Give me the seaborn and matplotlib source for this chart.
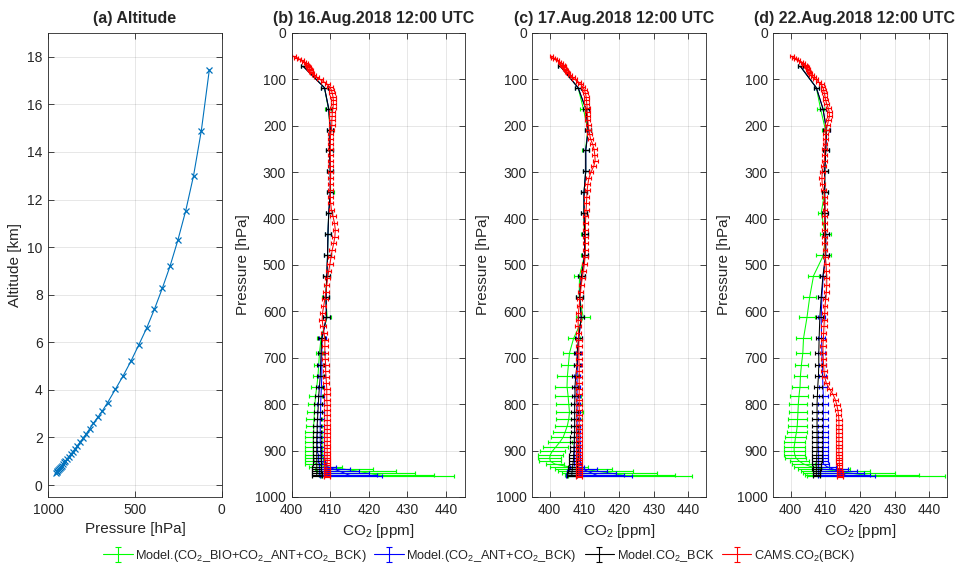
import numpy as np
import matplotlib
matplotlib.use("Agg")
import matplotlib.pyplot as plt
import seaborn as sns
from matplotlib.container import ErrorbarContainer
from matplotlib.legend_handler import HandlerErrorbar

# model levels (pressure [hPa]) and their altitude [km]
model_p = [72, 118, 163, 208, 253, 298, 343, 388, 433, 478, 523, 568, 613, 658, 690, 715, 740,
           762, 782, 800, 817, 832, 846, 859, 871, 882, 892, 901, 909, 916, 923, 929, 935, 940, 944, 948, 952, 955]
model_alt = [17.45, 14.9, 13.0, 11.53, 10.3, 9.21, 8.27, 7.4, 6.6, 5.9, 5.22, 4.6, 4.03, 3.47, 3.1, 2.85, 2.6,
             2.36, 2.15, 1.96, 1.8, 1.65, 1.52, 1.4, 1.29, 1.19, 1.1, 1.02, 0.95, 0.88, 0.82, 0.76, 0.71, 0.66, 0.62, 0.58, 0.55, 0.52]

# CAMS levels
cams_p = [50, 53, 56, 59, 62, 65, 68, 71, 74, 77, 80, 83,
          87, 91, 95, 100, 105, 111, 117, 123, 130, 137, 145, 153,
          161, 170, 179, 188, 198, 208, 218, 229, 240, 251, 263, 275,
          287, 300, 313, 326, 339, 353, 367, 381, 395, 410, 424, 439,
          453, 468, 483, 498, 513, 528, 543, 558, 573, 588, 603, 618,
          632, 647, 661, 675, 689, 703, 716, 729, 742, 755, 767, 779,
          791, 802, 813, 824, 834, 844, 853, 862, 871, 879, 887, 895,
          902, 909, 915, 921, 927, 932, 937, 942, 946, 950, 954, 957]
cams_err = [0.5, 0.5, 0.5, 0.5, 0.5, 0.5, 0.6, 0.6, 0.6, 0.6, 0.6, 0.6,
            0.6, 0.6, 0.7, 0.7, 0.7, 0.7, 0.7, 0.7, 0.7, 0.7, 0.7, 0.7,
            0.7, 0.7, 0.7, 0.7, 0.7, 0.7, 0.7, 0.7, 0.7, 0.7, 0.7, 0.7,
            0.7, 0.7, 0.7, 0.7, 0.7, 0.7, 0.7, 0.7, 0.7, 0.7, 0.7, 0.7,
            0.7, 0.7, 0.7, 0.7, 0.7, 0.7, 0.7, 0.7, 0.7, 0.7, 0.7, 0.7,
            0.8, 0.8, 0.8, 0.8, 0.8, 0.8, 0.8, 0.8, 0.8, 0.8, 0.8, 0.8,
            0.8, 0.8, 0.8, 0.8, 0.8, 0.8, 0.8, 0.8, 0.8, 0.8, 0.8, 0.8,
            0.8, 0.8, 0.8, 0.8, 0.8, 0.8, 0.8, 0.8, 0.8, 0.8, 0.8, 0.8]

# (b) 16 Aug
cams_b = [400.5, 401.2, 401.9, 402.6, 403.2, 403.7, 404.0, 404.2, 404.4, 404.6, 404.8, 405.0,
          405.3, 405.8, 406.5, 407.3, 408.3, 409.3, 409.9, 410.3, 410.5, 410.7, 410.8, 410.8,
          410.7, 410.5, 410.5, 410.4, 410.4, 410.3, 410.1, 410.0, 410.0, 410.0, 410.0, 410.0,
          410.0, 410.1, 410.1, 410.0, 410.0, 410.0, 410.1, 410.3, 410.7, 411.1, 411.3, 411.2,
          410.9, 410.5, 410.2, 409.9, 409.6, 409.3, 409.1, 408.9, 408.6, 408.3, 408.0, 407.9,
          408.1, 408.4, 408.6, 408.6, 408.6, 408.7, 408.8, 408.8, 408.9, 409.0, 409.1, 409.1,
          409.1, 409.2, 409.2, 409.2, 409.2, 409.2, 409.2, 409.2, 409.2, 409.2, 409.2, 409.2,
          409.2, 409.2, 409.2, 409.2, 409.2, 409.1, 409.1, 409.1, 409.1, 409.1, 409.1, 409.1]
b_bck = [403.0, 408.5, 409.6, 410.0, 409.8, 410.0, 410.0, 409.6, 409.4, 409.3, 409.1, 408.9, 409.0, 407.8, 407.6, 407.5, 407.4,
         407.2, 407.0, 406.9, 406.8, 406.7, 406.6, 406.6, 406.5, 406.5, 406.5, 406.5, 406.5, 406.5, 406.5, 406.5, 406.5, 406.5, 406.5, 406.5, 406.5, 406.5]
b_bck_err = [0.7, 0.8, 0.8, 0.8, 0.8, 0.8, 0.8, 0.8, 0.8, 0.8, 0.9, 0.9, 0.9, 0.9, 0.9, 0.9, 0.9,
             0.9, 1.0, 1.0, 1.0, 1.0, 1.0, 1.0, 1.0, 1.0, 1.0, 1.0, 1.1, 1.1, 1.1, 1.1, 1.2, 1.2, 1.2, 1.3, 1.3, 1.3]
b_ant = [403.0, 408.5, 409.6, 410.0, 409.8, 410.0, 410.0, 409.6, 409.4, 409.3, 409.1, 408.9, 409.0, 407.9, 407.8, 407.8, 407.8,
         407.7, 407.6, 407.5, 407.5, 407.4, 407.4, 407.4, 407.4, 407.4, 407.5, 407.5, 407.6, 407.6, 407.7, 408.0, 409.25, 411.0, 412.25, 413.5, 414.6, 415.45]
b_ant_err = [0.7, 0.8, 0.8, 0.8, 0.8, 0.8, 0.8, 0.8, 0.8, 0.8, 0.9, 0.9, 0.9, 0.9, 0.9, 0.9, 0.9,
             0.8, 0.9, 0.9, 0.9, 0.9, 0.9, 0.9, 0.9, 0.9, 0.9, 0.9, 0.9, 0.9, 0.9, 1.0, 2.25, 4.0, 5.25, 6.5, 7.4, 8.05]
b_bio = [403.0, 408.5, 409.5, 410.0, 409.8, 410.0, 410.1, 409.6, 409.4, 409.3, 409.1, 408.8, 409.2, 407.6, 407.2, 407.0, 406.8,
         406.5, 406.2, 406.0, 405.9, 405.8, 405.7, 405.7, 405.6, 405.6, 405.6, 405.6, 405.6, 405.7, 405.8, 406.25, 408.75, 413.5, 416.75, 419.5, 422.0, 424.75]
b_bio_err = [0.7, 0.8, 0.8, 0.8, 0.8, 0.8, 0.9, 0.8, 0.8, 0.8, 0.9, 0.9, 1.0, 1.0, 1.0, 1.1, 1.2,
             1.4, 1.7, 1.9, 2.0, 2.1, 2.1, 2.2, 2.2, 2.2, 2.2, 2.2, 2.2, 2.3, 2.4, 2.75, 4.25, 7.5, 10.25, 12.5, 15.0, 17.25]

# (c) 17 Aug
cams_c = [400.5, 401.0, 401.6, 402.2, 402.8, 403.3, 403.7, 404.0, 404.2, 404.4, 404.6, 404.9,
          405.3, 405.8, 406.5, 407.2, 408.2, 409.0, 409.6, 410.0, 410.3, 410.5, 410.6, 410.7,
          410.8, 410.8, 410.9, 411.0, 411.1, 411.3, 411.5, 411.8, 412.4, 412.8, 413.0, 413.1,
          412.7, 411.9, 411.3, 411.0, 410.8, 410.7, 410.6, 410.5, 410.4, 410.3, 410.3, 410.3,
          410.3, 410.3, 410.2, 410.0, 409.7, 409.4, 409.1, 408.9, 408.7, 408.5, 408.3, 408.2,
          408.2, 408.3, 408.4, 408.4, 408.4, 408.4, 408.5, 408.5, 408.5, 408.5, 408.5, 408.5,
          408.5, 408.5, 408.5, 408.5, 408.5, 408.5, 408.5, 408.5, 408.5, 408.5, 408.5, 408.5,
          408.5, 408.5, 408.5, 408.4, 408.4, 408.4, 408.4, 408.4, 408.4, 408.4, 408.4, 408.4]
c_bck = [403.1, 408.2, 410.4, 411.1, 410.4, 410.4, 409.9, 409.9, 410.1, 410.1, 409.2, 408.6, 409.1, 408.3, 407.9, 407.9, 407.5,
         407.3, 407.3, 407.2, 407.2, 407.2, 407.2, 407.2, 407.1, 407.1, 407.0, 407.0, 406.9, 406.9, 406.8, 406.7, 406.6, 406.5, 406.5, 406.4, 406.4, 406.4]
c_bck_err = [0.8, 0.8, 0.8, 0.9, 0.9, 0.9, 0.9, 0.9, 0.9, 0.9, 0.9, 0.9, 0.9, 0.9, 0.9, 0.9, 1.0,
             1.0, 1.0, 1.0, 1.0, 1.0, 1.0, 1.1, 1.1, 1.1, 1.1, 1.1, 1.2, 1.2, 1.2, 1.2, 1.3, 1.3, 1.3, 1.35, 1.35, 1.35]
c_ant = [403.1, 408.2, 410.4, 411.1, 410.4, 410.4, 409.9, 409.9, 410.1, 410.1, 409.2, 408.6, 409.1, 408.4, 408.1, 408.0, 407.9,
         407.9, 407.9, 407.9, 407.9, 407.9, 407.9, 407.9, 407.9, 407.9, 407.9, 407.9, 407.9, 407.9, 407.9, 408.0, 408.0, 409.5, 410.75, 412.0, 413.15, 414.1]
c_ant_err = [0.8, 0.8, 0.8, 0.9, 0.9, 0.9, 0.9, 0.9, 0.9, 0.9, 0.9, 0.9, 0.9, 0.9, 0.9, 0.9, 0.9,
             0.9, 0.9, 0.9, 0.9, 0.9, 0.9, 0.9, 0.9, 0.9, 0.9, 0.9, 0.9, 0.9, 0.9, 1.0, 2.0, 4.0, 5.75, 7.0, 8.35, 9.5]
c_bio = [403.1, 408.2, 409.7, 411.0, 410.3, 410.4, 409.9, 409.8, 410.0, 410.1, 408.6, 408.5, 409.7, 406.9, 405.7, 405.4, 405.1,
         405.0, 405.3, 405.5, 405.7, 405.5, 405.1, 404.5, 403.9, 402.9, 401.8, 400.8, 400.2, 400.0, 400.2, 401.5, 405.5, 409.75, 413.25, 417.25, 420.25, 423.15]
c_bio_err = [0.8, 0.8, 0.9, 0.9, 0.9, 0.9, 0.9, 0.9, 0.9, 1.0, 1.7, 1.0, 2.0, 1.7, 1.9, 2.2, 3.0,
             3.5, 3.7, 3.8, 3.8, 3.8, 3.7, 3.6, 3.6, 3.5, 3.6, 3.7, 3.6, 3.3, 3.2, 2.5, 5.5, 8.25, 10.75, 13.75, 15.75, 17.85]

# (d) 22 Aug
cams_d = [400.4, 401.0, 401.6, 402.3, 403.0, 403.6, 404.0, 404.3, 404.6, 404.9, 405.1, 405.3,
          405.6, 406.0, 406.5, 407.2, 408.0, 408.8, 409.3, 409.5, 409.7, 409.9, 410.1, 410.4,
          410.8, 411.1, 411.2, 410.9, 410.6, 410.3, 410.1, 410.0, 409.9, 409.8, 409.8, 409.7,
          409.4, 409.1, 409.0, 409.1, 409.5, 409.8, 409.9, 409.9, 409.8, 409.8, 409.8, 409.8,
          409.8, 409.9, 410.0, 410.2, 410.3, 410.4, 410.4, 410.3, 410.1, 409.9, 409.8, 409.7,
          409.6, 409.5, 409.4, 409.3, 409.3, 409.4, 409.5, 409.6, 409.8, 410.3, 411.2, 412.2,
          412.9, 413.3, 413.6, 413.8, 413.9, 413.9, 413.9, 413.9, 413.9, 413.9, 413.9, 413.9,
          413.9, 413.9, 414.0, 414.0, 414.0, 414.1, 414.1, 414.1, 414.2, 414.2, 414.2, 414.2]
d_bck = [402.8, 407.4, 409.3, 410.3, 410.1, 409.8, 409.8, 409.8, 410.1, 410.1, 409.3, 408.8, 408.4, 408.2, 408.1, 408.1, 408.0,
         407.8, 407.7, 407.6, 407.6, 407.6, 407.6, 407.6, 407.6, 407.6, 407.6, 407.6, 407.5, 407.5, 407.5, 407.5, 407.5, 407.4, 407.4, 407.4, 407.4, 407.4]
d_bck_err = [0.8, 0.8, 0.8, 0.9, 0.9, 0.9, 0.9, 0.9, 0.9, 0.9, 0.9, 1.0, 1.0, 1.0, 1.0, 1.0, 1.0,
             1.2, 1.3, 1.4, 1.4, 1.4, 1.4, 1.4, 1.4, 1.4, 1.4, 1.4, 1.4, 1.4, 1.4, 1.3, 1.2, 1.2, 1.1, 1.1, 1.1, 1.1]
d_ant = [402.8, 407.4, 409.3, 410.3, 410.1, 409.8, 409.8, 409.8, 410.1, 410.1, 409.4, 409.0, 408.8, 408.9, 409.0, 409.1, 409.2,
         409.3, 409.4, 409.4, 409.4, 409.4, 409.4, 409.4, 409.4, 409.4, 409.4, 409.4, 409.4, 409.4, 409.4, 409.5, 410.5, 412.25, 413.5, 414.5, 415.5, 416.15]
d_ant_err = [0.8, 0.8, 0.8, 0.9, 0.9, 0.9, 0.9, 0.9, 0.9, 0.9, 0.9, 1.0, 1.0, 1.0, 1.0, 1.0, 1.1,
             1.2, 1.3, 1.4, 1.4, 1.4, 1.4, 1.4, 1.4, 1.4, 1.4, 1.4, 1.4, 1.4, 1.4, 1.5, 2.5, 4.25, 5.5, 6.5, 7.5, 8.15]
d_bio = [402.8, 407.4, 408.6, 410.0, 410.1, 409.8, 409.8, 408.8, 410.0, 409.5, 406.6, 405.5, 404.7, 403.7, 403.5, 403.1, 402.8,
         402.7, 402.4, 402.2, 402.1, 402.0, 401.9, 401.7, 401.4, 401.2, 401.0, 401.0, 401.2, 401.5, 402.5, 403.75, 406.0, 409.5, 413.0, 416.75, 420.5, 424.55]
d_bio_err = [0.8, 0.8, 0.9, 1.0, 0.9, 0.9, 0.9, 0.9, 1.6, 2.2, 1.7, 1.9, 2.2, 2.3, 2.0, 1.9, 1.9,
             2.3, 2.5, 2.6, 2.7, 2.8, 2.8, 2.9, 2.9, 3.0, 3.0, 3.0, 3.0, 3.0, 2.8, 3.25, 5.0, 7.5, 10.0, 13.25, 16.5, 19.95]

titles = ["(a) Altitude", "(b) 16.Aug.2018 12:00 UTC", "(c) 17.Aug.2018 12:00 UTC", "(d) 22.Aug.2018 12:00 UTC"]
labels = [r"Model.(CO$_2$_BIO+CO$_2$_ANT+CO$_2$_BCK)", r"Model.(CO$_2$_ANT+CO$_2$_BCK)",
          r"Model.CO$_2$_BCK", r"CAMS.CO$_2$(BCK)"]
colors = ["#00ff00", "#0000ff", "#000000", "#ff0000"]

sns.set_theme(style="ticks")
plt.rcParams['font.family'] = ['Liberation Sans', 'DejaVu Sans']
plt.rcParams['mathtext.default'] = 'regular'

AX_COL = "#262626"

def style_axes(ax):
    ax.tick_params(direction="in", top=True, right=True, length=4, width=0.6,
                   colors=AX_COL, labelsize=10, pad=4)
    for s in ax.spines.values():
        s.set_color(AX_COL)
        s.set_linewidth(0.6)
    ax.grid(True, color="#262626", alpha=0.13, lw=0.6)
    ax.set_axisbelow(True)

fig = plt.figure(figsize=(9.64, 5.65), dpi=100)
lefts = [0.0501, 0.3026, 0.5522, 0.8022]
axes = [fig.add_axes([l, 0.1204, 0.18, 0.8212]) for l in lefts]

# (a) altitude
ax = axes[0]
sns.lineplot(x=model_p, y=model_alt, sort=False, estimator=None, ax=ax, color="#0072bd",
             lw=0.8, marker="x", markersize=5, markeredgecolor="#0072bd", markeredgewidth=0.9)
ax.set_xlim(1000, 0)
ax.set_ylim(-0.5, 19)
ax.set_xticks([1000, 500, 0])
ax.set_yticks(range(0, 19, 2))
ax.set_xlabel("Pressure [hPa]", fontsize=11, color=AX_COL)
ax.set_ylabel("Altitude [km]", fontsize=11, color=AX_COL)
style_axes(ax)

panels = [
    (cams_b, b_bck, b_bck_err, b_ant, b_ant_err, b_bio, b_bio_err, (400, 445)),
    (cams_c, c_bck, c_bck_err, c_ant, c_ant_err, c_bio, c_bio_err, (395, 445)),
    (cams_d, d_bck, d_bck_err, d_ant, d_ant_err, d_bio, d_bio_err, (395, 445)),
]

def profile(ax, x, err, p, color):
    ax.errorbar(x, p, xerr=err, fmt="none", ecolor=color, elinewidth=0.85,
                capsize=1.5, capthick=0.85)
    sns.lineplot(x=x, y=p, sort=False, estimator=None, orient="y", ax=ax,
                 color=color, lw=0.75)

for ax, (cams, bck, bck_e, ant, ant_e, bio, bio_e, xl) in zip(axes[1:], panels):
    profile(ax, bio, bio_e, model_p, colors[0])
    profile(ax, ant, ant_e, model_p, colors[1])
    profile(ax, bck, bck_e, model_p, colors[2])
    profile(ax, cams, cams_err, cams_p, colors[3])
    ax.set_xlim(*xl)
    ax.set_ylim(1000, 0)
    ax.set_xticks([400, 410, 420, 430, 440])
    ax.set_yticks(range(0, 1001, 100))
    ax.set_xlabel(r"CO$_2$ [ppm]", fontsize=11, color=AX_COL)
    ax.set_ylabel("Pressure [hPa]", fontsize=11, color=AX_COL)
    style_axes(ax)

axes[0].set_title(titles[0], fontsize=11.5, fontweight="bold", pad=7)
for ax, t in zip(axes[1:], titles[1:]):
    ax.set_title(t, fontsize=11.5, fontweight="bold", pad=7, x=0.47)

# legend proxies (vertical error glyph like the original)
handles = []
for c in colors:
    h = axes[1].errorbar([np.nan], [np.nan], yerr=[np.nan], color=c, lw=0.8,
                         capsize=2.5, capthick=0.8)
    handles.append(h)
fig.legend(handles, labels, loc="center", bbox_to_anchor=(0.497, 0.016), ncol=4,
           frameon=False, fontsize=9.2, handlelength=2.3, handletextpad=0.2,
           columnspacing=0.6, borderaxespad=0,
           handler_map={ErrorbarContainer: HandlerErrorbar(xerr_size=0.6)})

fig.savefig("out.png", dpi=100)
